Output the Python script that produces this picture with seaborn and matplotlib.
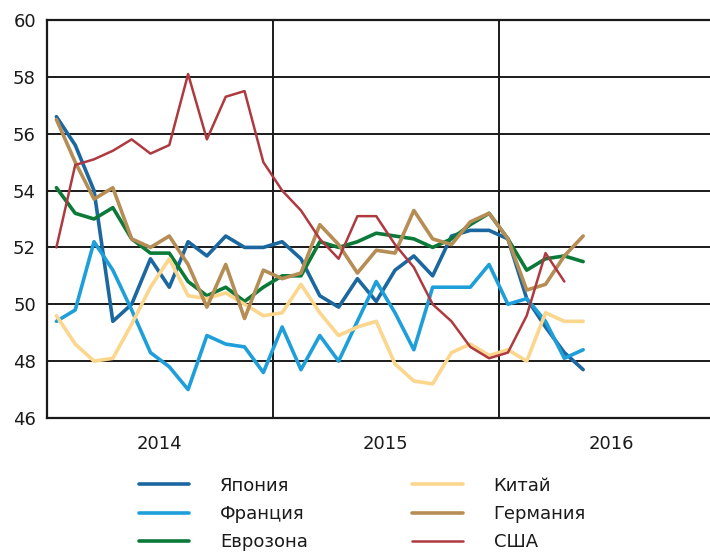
import numpy as np
import pandas as pd
import seaborn as sns
import matplotlib
matplotlib.use('Agg')
import matplotlib.pyplot as plt

# monthly PMI, Jan 2014 .. May 2016
japan = [56.6, 55.6, 54.0, 49.4, 50.0, 51.6, 50.6, 52.2, 51.7, 52.4, 52.0, 52.0,
         52.2, 51.6, 50.3, 49.9, 50.9, 50.1, 51.2, 51.7, 51.0, 52.4, 52.6, 52.6,
         52.3, 50.2, 49.2, 48.3, 47.7]
france = [49.4, 49.8, 52.2, 51.2, 49.8, 48.3, 47.8, 47.0, 48.9, 48.6, 48.5, 47.6,
          49.2, 47.7, 48.9, 48.0, 49.4, 50.8, 49.7, 48.4, 50.6, 50.6, 50.6, 51.4,
          50.0, 50.2, 49.4, 48.1, 48.4]
eurozone = [54.1, 53.2, 53.0, 53.4, 52.3, 51.8, 51.8, 50.8, 50.3, 50.6, 50.1, 50.6,
            51.0, 51.0, 52.2, 52.0, 52.2, 52.5, 52.4, 52.3, 52.0, 52.3, 52.8, 53.2,
            52.3, 51.2, 51.6, 51.7, 51.5]
china = [49.6, 48.6, 48.0, 48.1, 49.3, 50.6, 51.6, 50.3, 50.2, 50.4, 50.0, 49.6,
         49.7, 50.7, 49.7, 48.9, 49.2, 49.4, 47.9, 47.3, 47.2, 48.3, 48.6, 48.2,
         48.4, 48.0, 49.7, 49.4, 49.4]
germany = [56.5, 55.0, 53.7, 54.1, 52.3, 52.0, 52.4, 51.4, 49.9, 51.4, 49.5, 51.2,
           50.9, 51.1, 52.8, 52.1, 51.1, 51.9, 51.8, 53.3, 52.3, 52.1, 52.9, 53.2,
           52.3, 50.5, 50.7, 51.7, 52.4]
usa = [52.0, 54.9, 55.1, 55.4, 55.8, 55.3, 55.6, 58.1, 55.8, 57.3, 57.5, 55.0,
       54.0, 53.3, 52.3, 51.6, 53.1, 53.1, 52.1, 51.3, 50.0, 49.4, 48.5, 48.1,
       48.3, 49.6, 51.8, 50.8]

names = ['Япония', 'Франция', 'Еврозона', 'Китай', 'Германия', 'США']
series = [japan, france, eurozone, china, germany, usa]
colors = ['#1b67a0', '#1f9fda', '#0b7a38', '#fbd68c', '#b68d55', '#ae3a40']
widths = [2.6, 2.6, 2.6, 2.6, 2.6, 1.8]

years = ['2014', '2015', '2016']
yticks = [46, 48, 50, 52, 54, 56, 58, 60]

rows = []
for name, vals in zip(names, series):
    for i, v in enumerate(vals):
        rows.append({'country': name, 'month': i + 0.5, 'value': v})
df = pd.DataFrame(rows)

sns.set_style('white')
plt.rcParams['font.family'] = ['Liberation Sans Narrow', 'DejaVu Sans']

fig = plt.figure(figsize=(7.1, 5.6), dpi=100)
ax = fig.add_axes([0.0662, 0.2536, 0.934, 0.7107])

for name, c, lw in zip(names, colors, widths):
    sub = df[df['country'] == name]
    sns.lineplot(data=sub, x='month', y='value', ax=ax, color=c, lw=lw, label=name)

ax.set_xlim(0, 35.25)
ax.set_ylim(46, 60)
ax.set_yticks(yticks)
ax.set_xticks([6, 18, 30])
ax.set_xticklabels(years)
ax.tick_params(axis='both', length=0, labelsize=13, colors='#1a1a1a')
ax.tick_params(axis='x', pad=12)
ax.tick_params(axis='y', pad=8)
ax.set_xlabel('')
ax.set_ylabel('')
for y in yticks:
    ax.axhline(y, color='#1a1a1a', lw=1.4, zorder=0)
for x in [12, 24]:
    ax.axvline(x, color='#1a1a1a', lw=1.4, zorder=0)
for s in ['left', 'top', 'bottom']:
    ax.spines[s].set_color('#1a1a1a')
    ax.spines[s].set_linewidth(1.6)
ax.spines['right'].set_visible(False)

h, l = ax.get_legend_handles_labels()
ax.legend(h, l, ncol=2, loc='upper left', bbox_to_anchor=(0.185, 0.162),
          bbox_transform=fig.transFigure, frameon=False, fontsize=13,
          handlelength=2.8, handletextpad=1.7, columnspacing=5.8,
          labelspacing=0.58, borderaxespad=0, labelcolor='#1a1a1a')

fig.savefig('out.png', dpi=100)
